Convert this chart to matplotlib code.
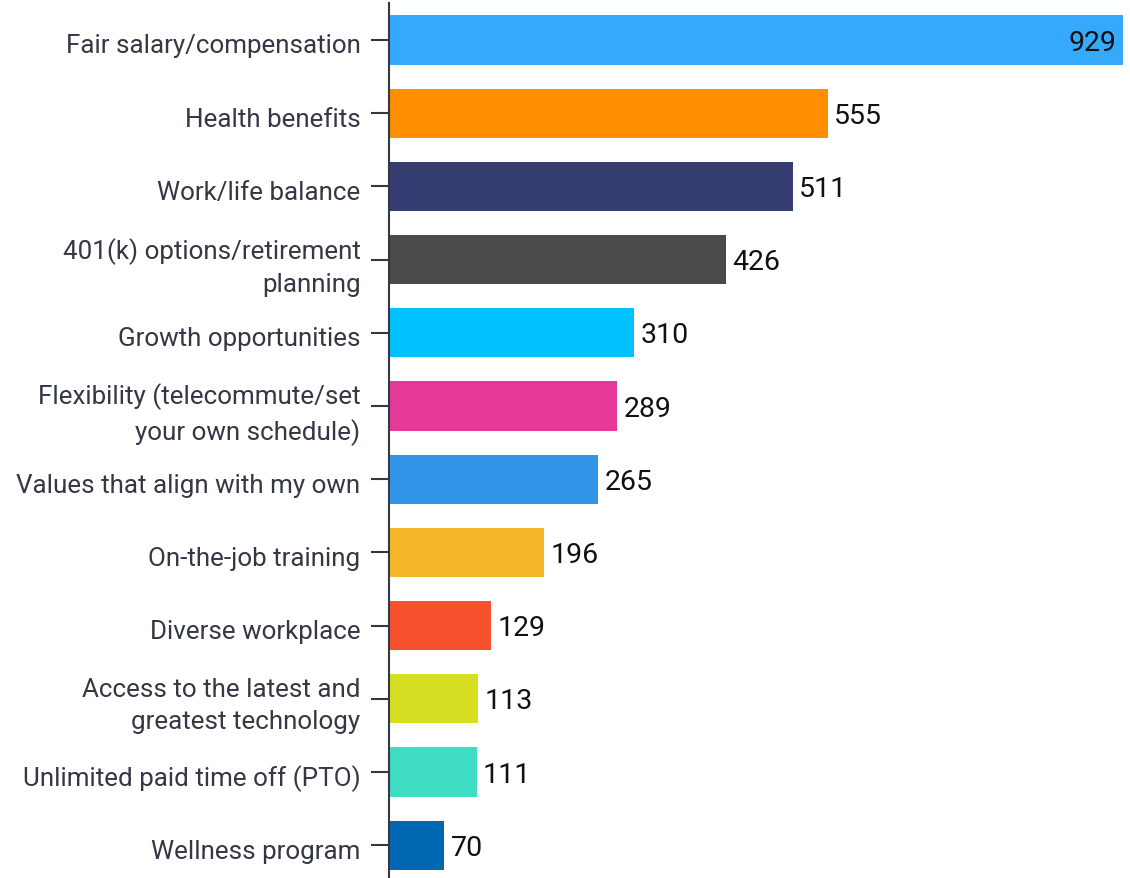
import matplotlib
matplotlib.use("Agg")
import matplotlib.pyplot as plt
import matplotlib.transforms as mtransforms

categories = [
    "Fair salary/compensation",
    "Health benefits",
    "Work/life balance",
    "401(k) options/retirement\nplanning",
    "Growth opportunities",
    "Flexibility (telecommute/set\nyour own schedule)",
    "Values that align with my own",
    "On-the-job training",
    "Diverse workplace",
    "Access to the latest and\ngreatest technology",
    "Unlimited paid time off (PTO)",
    "Wellness program",
]
values = [929, 555, 511, 426, 310, 289, 265, 196, 129, 113, 111, 70]
colors = ["#35A9FC", "#FF8F00", "#363D73", "#4A4A4A", "#00C2FF", "#E5399A",
          "#3296E8", "#F5B82C", "#F4512C", "#D7DF23", "#3DDCC3", "#0068B2"]

plt.rcParams['font.family'] = ['Roboto', 'DejaVu Sans']

fig = plt.figure(figsize=(11.3, 8.79), dpi=100)
top_px = 4.4
height_px = 878.4
ax = fig.add_axes([389/1130, (879 - top_px - height_px)/879, (1123-389)/1130, height_px/879])

pos = list(range(len(categories)))
bars = ax.barh(pos, values, height=0.67, color=colors)
ax.set_ylim(len(categories) - 0.5, -0.5)
ax.set_xlim(0, max(values))

for i, (b, v) in enumerate(zip(bars, values)):
    if i == 0:
        ax.annotate(str(v), (v, i), xytext=(-5, -1.5), textcoords="offset points",
                    ha="right", va="center", fontsize=20.5, color="#111111")
    else:
        ax.annotate(str(v), (v, i), xytext=(4.5, -1.5), textcoords="offset points",
                    ha="left", va="center", fontsize=20.5, color="#111111")

ax.set_yticks(pos)
ax.set_yticklabels(categories, fontsize=18.7, color="#333844", linespacing=1.42)
ax.tick_params(axis="y", length=13, width=1.5, color="#333844", pad=7.5)
shift = mtransforms.ScaledTranslation(0, -3/100, fig.dpi_scale_trans)
for lab in ax.get_yticklabels():
    if "\n" not in lab.get_text():
        lab.set_transform(lab.get_transform() + shift)
ax.set_xticks([])
for s in ["top", "right", "bottom"]:
    ax.spines[s].set_visible(False)
ax.spines["left"].set_color("#333844")
ax.spines["left"].set_linewidth(1.5)

fig.savefig("out.png", dpi=100)
